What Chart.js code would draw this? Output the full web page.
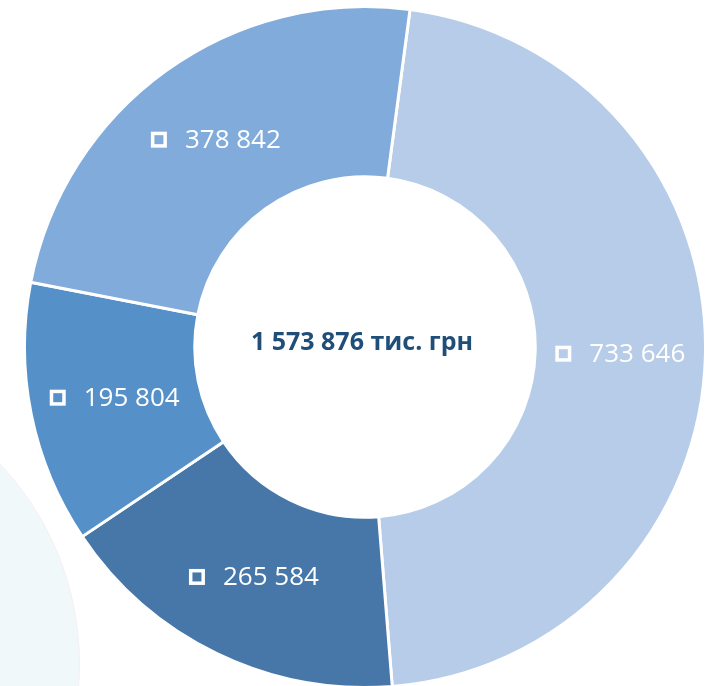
<!DOCTYPE html>
<html lang="uk">
<head>
<meta charset="utf-8">
<title>Структура, тис. грн</title>
<script src="https://cdn.jsdelivr.net/npm/chart.js@4.4.1/dist/chart.umd.min.js"></script>
<style>
    html, body { margin: 0; padding: 0; background: #ffffff; overflow: hidden; }
    body { width: 708px; height: 686px; position: relative; }
    /* світла декоративна пляма внизу зліва */
    .blob {
        position: absolute; left: -504px; top: 372px;
        width: 582px; height: 582px; border-radius: 50%;
        background: #f1f8fa; border: 1px solid #f7eff3;
    }
    .wrap { position: absolute; left: 22px; top: 5px; width: 686px; height: 684px; }
</style>
</head>
<body>
<div class="blob"></div>
<div class="wrap"><canvas id="donut"></canvas></div>
<script>
// Дані діаграми
const categories = ['A', 'B', 'C', 'D'];
const values = [733646, 265584, 195804, 378842];
const colors = ['#b7cce8', '#4677a8', '#5590c8', '#80abdb'];
const totalLabel = '1 573 876 тис. грн';

// формат з пробілами між тисячами
const fmt = v => String(v).replace(/\B(?=(\d{3})+(?!\d))/g, ' ');

// Підписи на сегментах: білий квадратик + число
const sliceLabels = {
    id: 'sliceLabels',
    afterDatasetsDraw(chart) {
        const c = chart.ctx;
        const meta = chart.getDatasetMeta(0);
        c.save();
        c.font = '26px "Open Sans", sans-serif';
        c.fillStyle = '#ffffff';
        c.strokeStyle = '#ffffff';
        c.textBaseline = 'middle';
        meta.data.forEach((arc, i) => {
            const p = arc.tooltipPosition();
            const text = fmt(values[i]);
            const tw = c.measureText(text).width;
            const box = 16, gap = 18;
            const full = box + gap + tw;
            const x0 = p.x - full / 2;
            c.lineWidth = 3.5;
            c.strokeRect(x0 + 1.75, p.y - box / 2 + 1.75, box - 3.5, box - 3.5);
            c.textAlign = 'left';
            c.fillText(text, x0 + box + gap, p.y + 1);
        });
        // підсумок у центрі
        const m = meta.data[0];
        c.font = 'bold 25px "Open Sans", sans-serif';
        c.fillStyle = '#1f4e79';
        c.textAlign = 'center';
        c.fillText(totalLabel, m.x - 3, m.y - 4);
        c.restore();
    }
};

new Chart(document.getElementById('donut'), {
    type: 'doughnut',
    data: {
        labels: categories,
        datasets: [{
            data: values,
            backgroundColor: colors,
            borderColor: '#ffffff',
            borderWidth: 3
        }]
    },
    options: {
        responsive: true,
        maintainAspectRatio: false,
        animation: false,
        rotation: 7.6,
        cutout: '50%',
        layout: { padding: 0 },
        plugins: {
            legend: { display: false },
            tooltip: { enabled: false }
        }
    },
    plugins: [sliceLabels]
});
</script>
</body>
</html>
